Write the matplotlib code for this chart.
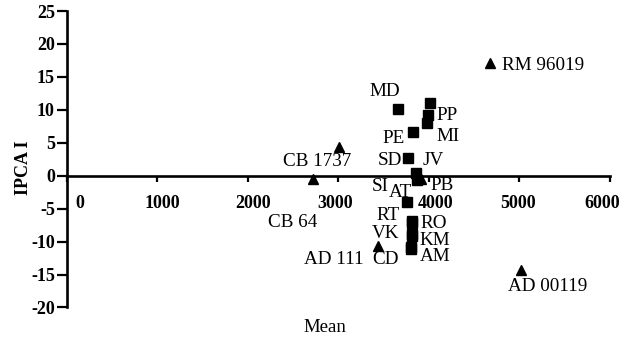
import matplotlib
matplotlib.use("Agg")
import matplotlib.pyplot as plt
import matplotlib.transforms as mtransforms

plt.rcParams['font.family'] = ['Liberation Serif', 'DejaVu Serif']

# ---- data ----
tri_names = ["RM 96019", "CB 1737", "CB 64", "AD 111", "AD 00119", "PB"]
tri_x = [4675, 3010, 2723, 3435, 5017, 3913]
tri_y = [17.06, 4.3, -0.45, -10.6, -14.3, -0.5]

sq_names = ["", "PP", "MI", "MD", "PE", "SD", "JV", "SI", "AT",
            "RT", "RO", "VK", "KM", "CD", "AM"]
sq_x = [4012, 3993, 3976, 3662, 3821, 3773, 3858, 3869, 3758,
        3810, 3810, 3810, 3810, 3802, 3802]
sq_y = [11.0, 9.2, 7.95, 10.2, 6.7, 2.7, 0.4, -0.65, -4.0,
        -6.9, -7.2, -8.85, -9.15, -10.8, -11.15]

x_ticks = [0, 1000, 2000, 3000, 4000, 5000, 6000]
y_ticks = [-20, -15, -10, -5, 0, 5, 10, 15, 20, 25]

# ---- label placement (pixel offsets, alignment) ----
tri_lab = {
    "RM 96019": (12, -1.7, "left"),
    "CB 1737": (-21.8, -13.7, "center"),
    "CB 64": (-20.3, -44.3, "center"),
    "AD 111": (-14.4, -14.3, "right"),
    "AD 00119": (26.5, -16.7, "center"),
    "PB": (9, -6, "left"),
}
sq_lab = {
    "PP": (8.4, 0, "left"),
    "MI": (9.3, -12.7, "left"),
    "MD": (-13.3, 16.6, "center"),
    "PE": (-7.7, -6.6, "right"),
    "SD": (-6.6, -2.3, "right"),
    "JV": (7, 13, "left"),
    "SI": (-28, -6, "right"),
    "AT": (-7, 9.3, "center"),
    "RT": (-11.7, 5.3, "right"),
    "RO": (8.3, 0, "left"),
    "VK": (-12.7, 1, "right"),
    "KM": (7.6, -4, "left"),
    "CD": (-12.7, -13, "right"),
    "AM": (9, -7.4, "left"),
}
xlabel_shift = [13, 5, 5, -3, 7, -1, -8]

fig = plt.figure(figsize=(6.25, 3.45), dpi=100)
ax = fig.add_axes([0.1067, 0.1087, 0.8693, 0.8594])

ax.plot(sq_x, sq_y, linestyle="none", marker="s", markersize=6.7,
        color="black", zorder=3)
ax.plot(tri_x, tri_y, linestyle="none", marker="^", markersize=7.8,
        color="black", zorder=3)

lab_fs = 13.8
for n, x, y in zip(tri_names, tri_x, tri_y):
    dx, dy, ha = tri_lab[n]
    ax.annotate(n, (x, y), xytext=(dx, dy), textcoords="offset pixels",
                ha=ha, va="center", fontsize=lab_fs, zorder=4)
for n, x, y in zip(sq_names, sq_x, sq_y):
    if n in sq_lab:
        dx, dy, ha = sq_lab[n]
        ax.annotate(n, (x, y), xytext=(dx, dy), textcoords="offset pixels",
                    ha=ha, va="center", fontsize=lab_fs, zorder=4)

ax.set_xlim(0, 6000)
ax.set_ylim(-20, 25)

for s in ["top", "right"]:
    ax.spines[s].set_visible(False)
ax.spines["bottom"].set_position(("data", 0))
ax.spines["left"].set_linewidth(1.9)
ax.spines["bottom"].set_linewidth(1.9)

ax.set_xticks(x_ticks)
ax.set_yticks(y_ticks)
ax.set_xticklabels([str(t) for t in x_ticks], fontsize=13, fontweight="bold")
ax.set_yticklabels([str(t) for t in y_ticks], fontsize=13, fontweight="bold")
ax.tick_params(axis="x", direction="out", length=4, width=1.6, pad=10)
ax.tick_params(axis="y", direction="out", length=7, width=1.6, pad=1.5)

for lbl, shift in zip(ax.get_xticklabels(), xlabel_shift):
    lbl.set_transform(lbl.get_transform() +
                      mtransforms.Affine2D().translate(shift, 0))

ax.set_ylabel("IPCA I", fontsize=13, fontweight="bold")
ax.yaxis.set_label_coords(-0.064, 0.47)
fig.text(0.52, 0.05, "Mean", ha="center", va="center", fontsize=13.5)

fig.savefig("out.png", dpi=100)
